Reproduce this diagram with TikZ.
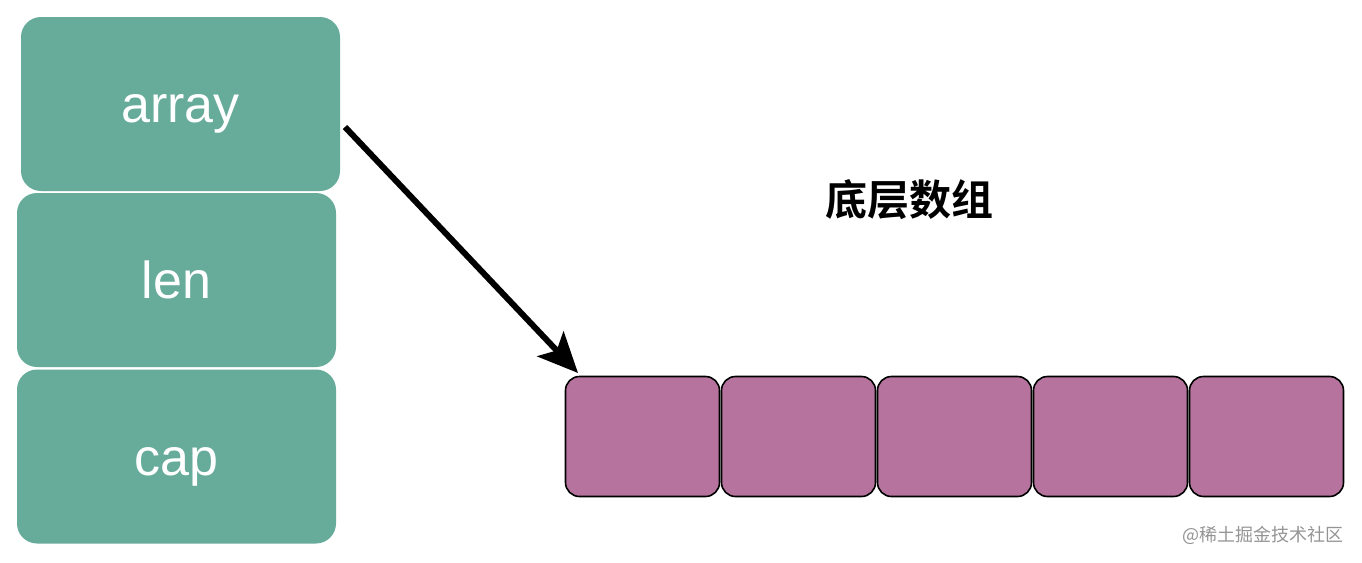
\documentclass[tikz,border=0pt]{standalone}
\usepackage{fontspec}
\setmainfont{Liberation Sans}
\newfontfamily\cjk{Noto Sans CJK SC}
\newfontfamily\cjkb{Noto Sans CJK SC Bold}
\usetikzlibrary{arrows.meta}
\definecolor{teal1}{HTML}{67AB9B}
\definecolor{purp1}{HTML}{B5739D}
\tikzset{
  fieldbox/.style={fill=teal1, rounded corners=20pt, minimum width=319pt, minimum height=174pt, inner sep=0pt, text=white, font=\fontsize{52}{56}\selectfont, text height=37pt, text depth=0pt},
  cellbox/.style={fill=purp1, draw=black, line width=1.6pt, rounded corners=14pt, minimum width=154pt, minimum height=120pt, inner sep=0pt},
  bigarrow/.style={line width=6pt, -{Stealth[length=40pt,width=36pt,inset=9pt]}}
}
\begin{document}
\begin{tikzpicture}[x=1pt,y=-1pt]
\useasboundingbox (0,0) rectangle (1362,562);
\node[fieldbox] (arr) at (180.5,104) {array};
\node[fieldbox] (len) at (176.5,280) {len};
\node[fieldbox] (cap) at (176.5,456.5) {cap};
\node[cellbox] (c1) at (642.5,436.5) {};
\node[cellbox] (c2) at (798.5,436.5) {};
\node[cellbox] (c3) at (954.5,436.5) {};
\node[cellbox] (c4) at (1110.5,436.5) {};
\node[cellbox] (c5) at (1266.5,436.5) {};
\node[font=\cjkb\fontsize{42}{44}\selectfont] (title) at (909,200) {底层数组};
\node[font=\cjk\fontsize{18}{20}\selectfont, text=black!42, anchor=east] (wm) at (1347,535) {@稀土掘金技术社区};
\coordinate (s) at (345,127);
\coordinate (t) at (578,373);
\draw[bigarrow] (s) -- (t);
\end{tikzpicture}
\end{document}
